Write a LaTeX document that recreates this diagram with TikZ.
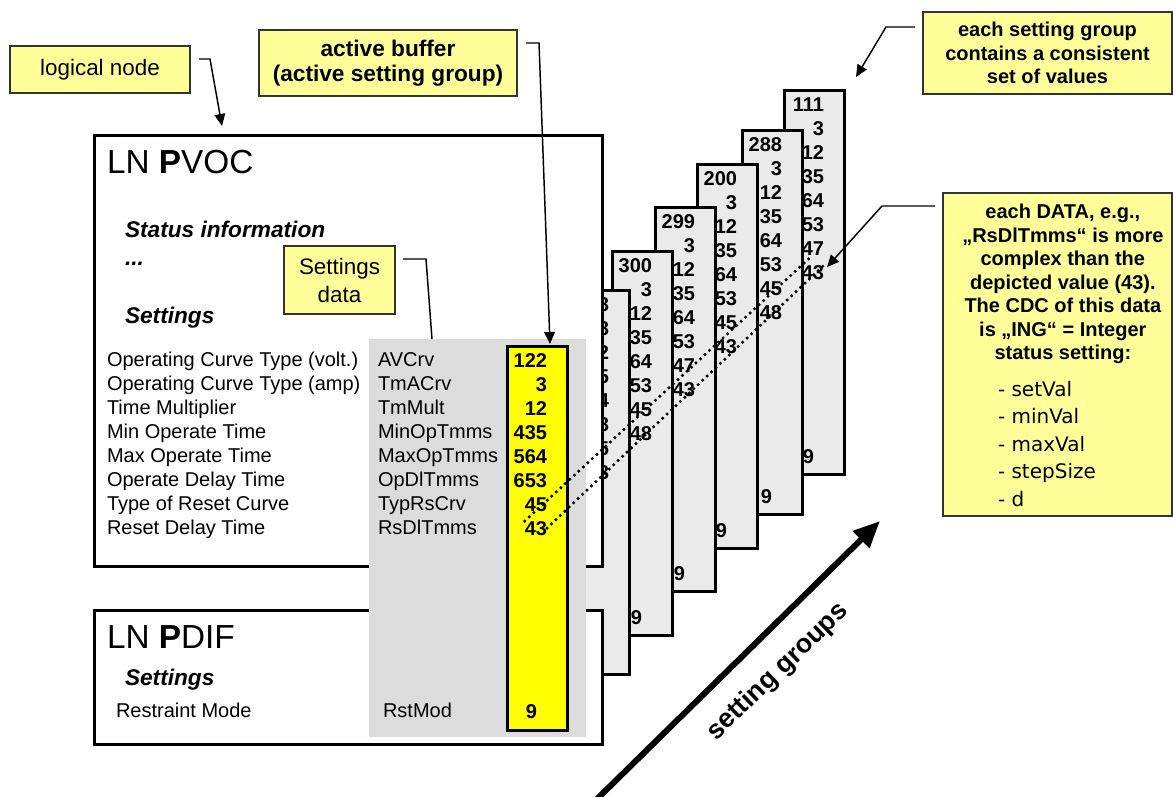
\documentclass[tikz,border=0pt]{standalone}
\usepackage{fontspec}
\setmainfont{Liberation Sans}
\newfontfamily\listfamily{DejaVu Sans}
\usetikzlibrary{arrows.meta,positioning,calc}

\definecolor{noteyellow}{HTML}{FFFF99}
\definecolor{activeyellow}{HTML}{FFFF00}
\definecolor{areagray}{HTML}{DCDCDC}
\definecolor{panelgray}{HTML}{EAEAEA}

\newcommand\szbody{\fontsize{15}{18}\selectfont}
\newcommand\sznum{\fontsize{15}{18}\selectfont\bfseries}
\newcommand\szln{\fontsize{25}{30}\selectfont}
\newcommand\szhead{\fontsize{17}{20}\selectfont\bfseries\itshape}
\newcommand\sznote{\fontsize{16.8}{21}\selectfont}
\newcommand\szactive{\fontsize{17}{18.75}\selectfont\bfseries}
\newcommand\szbold{\fontsize{15}{17.6}\selectfont\bfseries}
\newcommand\szlist{\listfamily\fontsize{15}{20.6}\selectfont}
\newcommand\szgroups{\fontsize{20}{24}\selectfont\bfseries}

\begin{document}
\begin{tikzpicture}[x=0.75pt,y=-0.75pt,
  every node/.style={inner sep=0pt,outer sep=0pt},
  edged/.style={draw=black,line width=2.25pt,rectangle},
  grpbox/.style={edged,fill=panelgray,minimum width=45pt,minimum height=288pt,anchor=north west},
  lnbox/.style={edged,fill=white,minimum width=381pt,anchor=north west},
  callbox/.style={draw=black!80,fill=noteyellow,line width=1.1pt,rectangle,anchor=north west,align=center},
  rowtxt/.style={anchor=base west,font=\szbody},
  numtxt/.style={anchor=base east,font=\sznum},
  headtxt/.style={anchor=base west,font=\szhead},
  lntitle/.style={anchor=base west,font=\szln},
  callline/.style={draw=black,line width=1.1pt},
  callarrow/.style={callline,-{Triangle[length=9pt,width=8pt]}},
  dotline/.style={line width=2.6pt,dash pattern=on 0pt off 4.6pt,line cap=round},
  bigarrow/.style={line width=4.5pt,-{Triangle[length=20pt,width=17pt]}}
]
\useasboundingbox (0,0) rectangle (1173,796);

% setting groups, back to front
\foreach \g/\gx/\gy/\gvals in {6/784/90/{111,3,12,35,64,53,47,43},
    5/742/130/{288,3,12,35,64,53,45,48},4/697/164/{200,3,12,35,64,53,45,43},
    3/655/207/{299,3,12,35,64,53,47,43},2/612/251/{300,3,12,35,64,53,45,48},
    1/569/290/{128,8,12,35,64,58,45,48}}{
  \node[grpbox] (g\g) at (\gx,\gy) {};
  \foreach \v [count=\i from 0] in \gvals
    \node[numtxt] (v\g-\i) at (\gx+40,\gy+21+24*\i) {\v};
  \node[numtxt] (nine\g) at (\gx+30,\gy+373) {9};
}

% logical nodes
\node[lnbox,minimum height=323.25pt] (pvoc) at (94,135) {};
\node[lnbox,minimum height=100.5pt,below right=33pt and 0pt of pvoc.south west] (pdif) {};
\node[fill=areagray,minimum width=162.75pt,minimum height=298.5pt,anchor=north west] (setarea) at (369,339) {};
\node[grpbox,fill=activeyellow] (active) at (507,346) {};

\node[lntitle] (pvoctitle) at (107,173) {LN \textbf{P}VOC};
\node[headtxt] (status) at (125,237) {Status information};
\node[headtxt] (dots) at (125,265) {...};
\node[headtxt] (pvocset) at (125,323) {Settings};
\foreach \desc/\dname/\dval [count=\i from 0] in {Operating Curve Type (volt.)/AVCrv/122,
    Operating Curve Type (amp)/TmACrv/3,Time Multiplier/TmMult/12,
    Min Operate Time/MinOpTmms/435,Max Operate Time/MaxOpTmms/564,
    Operate Delay Time/OpDlTmms/653,Type of Reset Curve/TypRsCrv/45,
    Reset Delay Time/RsDlTmms/43}{
  \node[rowtxt] (d\i) at (107,366+24*\i) {\desc};
  \node[rowtxt] (n\i) at (378,366+24*\i) {\dname};
  \node[numtxt] (y\i) at (547,367+24*\i) {\dval};
}

\node[lntitle] (pdiftitle) at (107,648) {LN \textbf{P}DIF};
\node[headtxt] (pdifset) at (125,685) {Settings};
\node[rowtxt] (rmode) at (116,717) {Restraint Mode};
\node[rowtxt] (rstmod) at (383,717) {RstMod};
\node[numtxt] (ynine) at (537,718) {9};

% same data in other groups
\draw[dotline] (y7.north west) -- (v6-6.south);
\draw[dotline] (y7.east) -- (v6-7.north east);

% callouts
\node[callbox,minimum width=135pt,minimum height=35.25pt,font=\sznote] (lnnote) at (10,46) {logical node};
\node[callbox,minimum width=193.5pt,minimum height=49.5pt,font=\szactive] (actnote) at (259,30) {active buffer\\(active setting group)};
\node[callbox,minimum width=83.25pt,minimum height=51pt,font=\sznote] (setnote) at (284,246) {Settings\\data};
\node[callbox,minimum width=186.75pt,minimum height=61.5pt,font=\szbold] (grpnote) at (923,12) {each setting group\\contains a consistent\\set of values};
\node[callbox,minimum width=171.75pt,minimum height=242.25pt] (cdcnote) at (943,193) {};
\node[font=\szbold,align=center,below=8.6pt of cdcnote.north,xshift=4pt] (cdctxt)
  {each DATA, e.g.,\\„\textbf{RsDlTmms}“ is more\\complex than the\\depicted value (43).\\The CDC of this data\\is „ING“ = Integer\\status setting:};
\node[font=\szlist,align=left,anchor=north west] (cdclist) at ($(cdctxt.south -| cdcnote.west)+(55,17)$)
  {- setVal\\- minVal\\- maxVal\\- stepSize\\- d};

\draw[callarrow] ($(lnnote.north east)+(9,13)$) -- ++(11,0) -- ($(pvoc.north west)+(128,-9)$);
\draw[callarrow] ($(actnote.north east)+(9,13)$) -- ++(13,0) -- ($(active.north)+(13,-2)$);
\draw[callline] ($(setnote.north east)+(8,13)$) -- ++(23,0) -- ($(setarea.north west)+(63,0)$);
\draw[callarrow] ($(grpnote.north west)+(-8,15)$) -- ++(-29,0) -- ($(g6.north east)+(12,-13)$);
\draw[callarrow] ($(cdcnote.north west)+(-8,13)$) -- ++(-53,0) -- ($(v6-7.north east)+(3,2)$);

% direction of the groups
\coordinate (sgfoot) at (596,800);
\coordinate (sghead) at (880,521);
\draw[bigarrow] (sgfoot) -- (sghead);
\node[font=\szgroups,rotate=44] (grplabel) at (778,672) {setting groups};
\end{tikzpicture}
\end{document}
